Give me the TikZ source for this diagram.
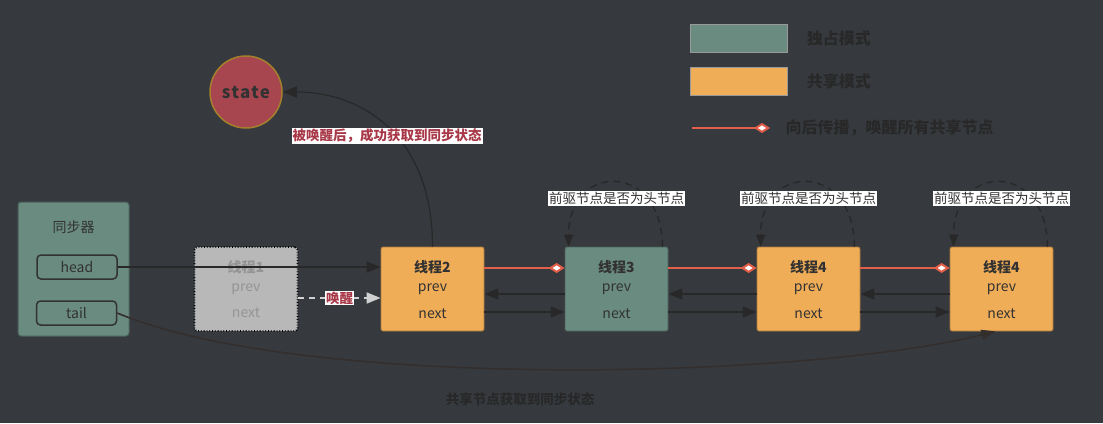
\documentclass[tikz,border=0pt]{standalone}
\usepackage{fontspec}
\setmainfont{Noto Sans CJK SC}
\usetikzlibrary{arrows.meta,positioning}

\definecolor{bgcol}{RGB}{54,58,63}
\definecolor{excl}{RGB}{106,139,128}
\definecolor{shared}{RGB}{240,173,88}
\definecolor{waked}{RGB}{184,184,184}
\definecolor{statered}{RGB}{168,70,80}
\definecolor{stateedge}{RGB}{165,127,44}
\definecolor{wire}{RGB}{40,40,40}
\definecolor{tailwire}{RGB}{52,46,44}
\definecolor{prop}{RGB}{226,96,74}
\definecolor{darktext}{RGB}{50,50,50}
\definecolor{legendtext}{RGB}{40,40,40}
\definecolor{hint}{RGB}{168,56,72}

\tikzset{
  box/.style={draw, minimum width=103pt, minimum height=84pt, rounded corners=2pt, line width=0.8pt},
  exclbox/.style={box, fill=excl, draw=excl!70!black},
  sharedbox/.style={box, fill=shared, draw=shared!70!black},
  wakedbox/.style={box, fill=waked, draw=black, dotted, line width=1.8pt, rounded corners=3pt},
  threadtitle/.style={font=\fontsize{14}{16}\selectfont\bfseries},
  fieldtext/.style={font=\fontsize{14}{16}\selectfont},
  ptrbox/.style={draw=darktext, fill=excl, line width=1.5pt, rounded corners=4pt, minimum width=80pt, minimum height=24pt, fieldtext, text=darktext},
  ptr/.style={draw=wire, line width=1.7pt, -{Triangle[length=14pt,width=11pt]}},
  propline/.style={draw=prop, line width=2pt, -{Diamond[length=16pt,width=10pt,fill=white]}},
  askline/.style={draw=wire, line width=1.4pt, dash pattern=on 7pt off 5pt, -{Triangle[length=12pt,width=9pt]}},
  asklabel/.style={fill=white, inner sep=1pt, font=\fontsize{13.5}{15}\selectfont, text=darktext},
  hintlabel/.style={fill=white, inner sep=1pt, font=\fontsize{13.5}{15}\selectfont\bfseries, text=hint},
  legbox/.style={minimum width=97pt, minimum height=28pt, draw=black!40, line width=0.8pt},
  legtext/.style={font=\fontsize{16}{18}\selectfont\bfseries, text=legendtext, anchor=west}
}

% name, box style, x, title, text colour
\newcommand{\threadnode}[5]{%
  \node[#2] (#1) at (#3,289) {};
  \node[threadtitle, text=#5] at ([yshift=-21pt]#1.north) {#4};
  \node[fieldtext, text=#5] at ([yshift=-43pt]#1.north) {prev};
  \node[fieldtext, text=#5] at ([yshift=-67pt]#1.north) {next};
}

\begin{document}
\begin{tikzpicture}[x=1pt, y=-1pt]
	%%%%% START %%%%%
	\fill[bgcol] (0,0) rectangle (1103,423);
	\useasboundingbox (0,0) rectangle (1103,423);

	% legend
	\node[legbox, fill=excl] (legexcl) at (738.5,38) {};
	\node[legtext, right=16pt of legexcl] {独占模式};
	\node[legbox, fill=shared] (legshared) at (738.5,81) {};
	\node[legtext, right=16pt of legshared] {共享模式};
	\coordinate (legprop) at (692,128);
	\draw[propline] (legprop) -- ++(78,0) coordinate (legpropend);
	\node[legtext, right=12pt of legpropend] {向后传播，唤醒所有共享节点};

	% synchronizer
	\node[draw=excl!70!black, fill=excl, rounded corners=3pt, line width=1pt, minimum width=111pt, minimum height=134pt] (sync) at (73.5,269) {};
	\node[fieldtext, text=darktext] at ([yshift=-26pt]sync.north) {同步器};
	\node[ptrbox] (head) at (77,267) {head};
	\node[ptrbox] (tail) at (76.5,313) {tail};

	% queue
	\threadnode{t1}{wakedbox}{246}{线程1}{black!42}
	\threadnode{t2}{sharedbox}{432.5}{线程2}{darktext}
	\threadnode{t3}{exclbox}{616.5}{线程3}{darktext}
	\threadnode{t4}{sharedbox}{808.5}{线程4}{darktext}
	\threadnode{t5}{sharedbox}{1001.5}{线程4}{darktext}

	\node[circle, fill=statered, draw=stateedge, line width=1.5pt, minimum size=72pt, font=\fontsize{17}{19}\selectfont\bfseries, text=darktext] (state) at (246,92) {s\kern1pt t\kern1pt a\kern1pt t\kern1pt e};

	\draw[ptr, line width=1.2pt] (t2.north) .. controls +(0,-110) and +(80,0) .. (state.east);
	\node[hintlabel] (wakeok) at (387,136) {被唤醒后，成功获取到同步状态};

	\draw[ptr] (head.east) -- (head.east -| t2.west);
	\draw[draw=black!18, line width=1.7pt, dash pattern=on 6pt off 5pt, -{Triangle[length=14pt,width=11pt]}]
		([yshift=-9pt]t1.east) -- node[hintlabel] {唤醒} ([yshift=-9pt]t2.west);

	\foreach \a/\b in {t2/t3, t3/t4, t4/t5} {
		\draw[ptr] ([yshift=-5pt]\b.west) -- ([yshift=-5pt]\a.east);
		\draw[ptr] ([yshift=-23pt]\a.east) -- ([yshift=-23pt]\b.west);
		\draw[propline] ([yshift=21pt]\a.east) -- ([yshift=21pt]\b.west);
	}

	\foreach \t in {t3, t4, t5} {
		\draw[askline] ([xshift=-6pt]\t.north east) .. controls +(0,-85) and +(0,-85) .. ([xshift=4pt]\t.north west);
		\node[asklabel] at ([yshift=48pt]\t.north) {前驱节点是否为头节点};
	}

	\draw[draw=tailwire, line width=1.6pt, -{Triangle[length=14pt,width=10pt]}]
		(tail.east) .. controls (300,390) and (800,380) .. ([xshift=-6pt]t5.south);
	\node[font=\fontsize{13.5}{15}\selectfont\bfseries, text=legendtext] (sharedok) at (520,399) {共享节点获取到同步状态};
	%%%%% END %%%%%
\end{tikzpicture}
\end{document}
